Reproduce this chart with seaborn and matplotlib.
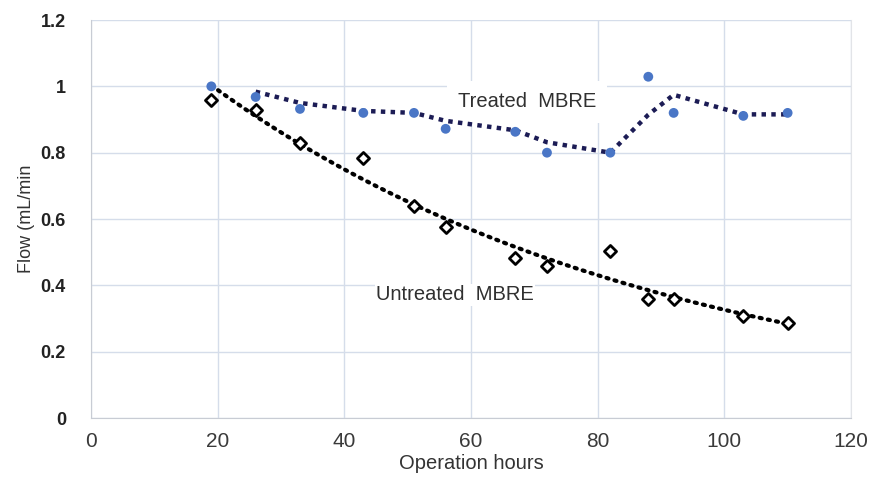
import numpy as np
import pandas as pd
import matplotlib
matplotlib.use("Agg")
import matplotlib.pyplot as plt
import seaborn as sns

# operation hours at which flow was measured
hours = [19, 26, 33, 43, 51, 56, 67, 72, 82, 88, 92, 103, 110]
treated_flow = [1.00, 0.968, 0.932, 0.92, 0.92, 0.872, 0.863, 0.80, 0.80, 1.029, 0.92, 0.911, 0.92]
untreated_flow = [0.96, 0.93, 0.83, 0.785, 0.64, 0.576, 0.483, 0.459, 0.504, 0.359, 0.359, 0.308, 0.287]

df = pd.DataFrame({"hours": hours, "treated": treated_flow, "untreated": untreated_flow})

# trendlines like Excel: 2-period moving average and exponential fit
df["treated_ma"] = df["treated"].rolling(2).mean()
b, log_a = np.polyfit(df["hours"], np.log(df["untreated"]), 1)
fit_x = np.linspace(df["hours"].min(), df["hours"].max(), 100)
fit = pd.DataFrame({"hours": fit_x, "flow": np.exp(log_a) * np.exp(b * fit_x)})

sns.set_style("white")
plt.rcParams["font.family"] = ["Liberation Sans", "DejaVu Sans"]

fig = plt.figure(figsize=(8.8, 4.79), dpi=100)
ax = fig.add_axes([0.1034, 0.1273, 0.8636, 0.8309])

grid_color = "#d5ddea"
ax.set_axisbelow(True)
ax.grid(True, color=grid_color, linewidth=1.0)

# untreated: open diamonds + exponential trendline
sns.lineplot(data=fit, x="hours", y="flow", ax=ax, color="black",
             linewidth=3, linestyle=(0, (0.5, 1.5)), dash_capstyle="round", zorder=3)
sns.scatterplot(data=df, x="hours", y="untreated", ax=ax, marker="D", s=38,
                facecolor="white", edgecolor="black", linewidth=2, zorder=4)

# treated: blue dots + moving average trendline
sns.lineplot(data=df.dropna(), x="hours", y="treated_ma", ax=ax, color="#1c1c55",
             linewidth=3.2, linestyle=(0, (1, 1.2)), zorder=3)
sns.scatterplot(data=df, x="hours", y="treated", ax=ax, marker="o", s=50,
                color="#4a76c6", edgecolor="none", zorder=4)

ax.set_xlim(0, 120)
ax.set_ylim(0, 1.2)
ax.set_xticks(np.arange(0, 121, 20))
ax.set_yticks(np.arange(0, 1.21, 0.2))
ax.set_yticklabels(["0", "0.2", "0.4", "0.6", "0.8", "1", "1.2"], fontweight="bold")
ax.tick_params(axis="y", labelsize=13, length=0, pad=18, colors="#222222")
ax.tick_params(axis="x", labelsize=15, length=0, pad=10, colors="#3a3a3a")

ax.spines["top"].set_visible(False)
ax.spines["right"].set_color("#e2e4e8")
for side in ["left", "bottom"]:
    ax.spines[side].set_color("#c8ccd4")

ax.set_xlabel("Operation hours", fontsize=14.5, color="#333333", labelpad=2)
ax.set_ylabel("Flow (mL/min", fontsize=13, color="#333333", labelpad=4)

# labels sit above the grid but under the data
ax.text(68.8, 0.953, "Treated  MBRE", fontsize=14.5, color="#303030", ha="center", va="center",
        bbox=dict(facecolor="white", edgecolor="none", pad=8), zorder=1.5)
ax.text(57.5, 0.371, "Untreated  MBRE", fontsize=14.5, color="#303030", ha="center", va="center",
        bbox=dict(facecolor="white", edgecolor="none", pad=1), zorder=1.5)

fig.savefig("out.png", dpi=100)
